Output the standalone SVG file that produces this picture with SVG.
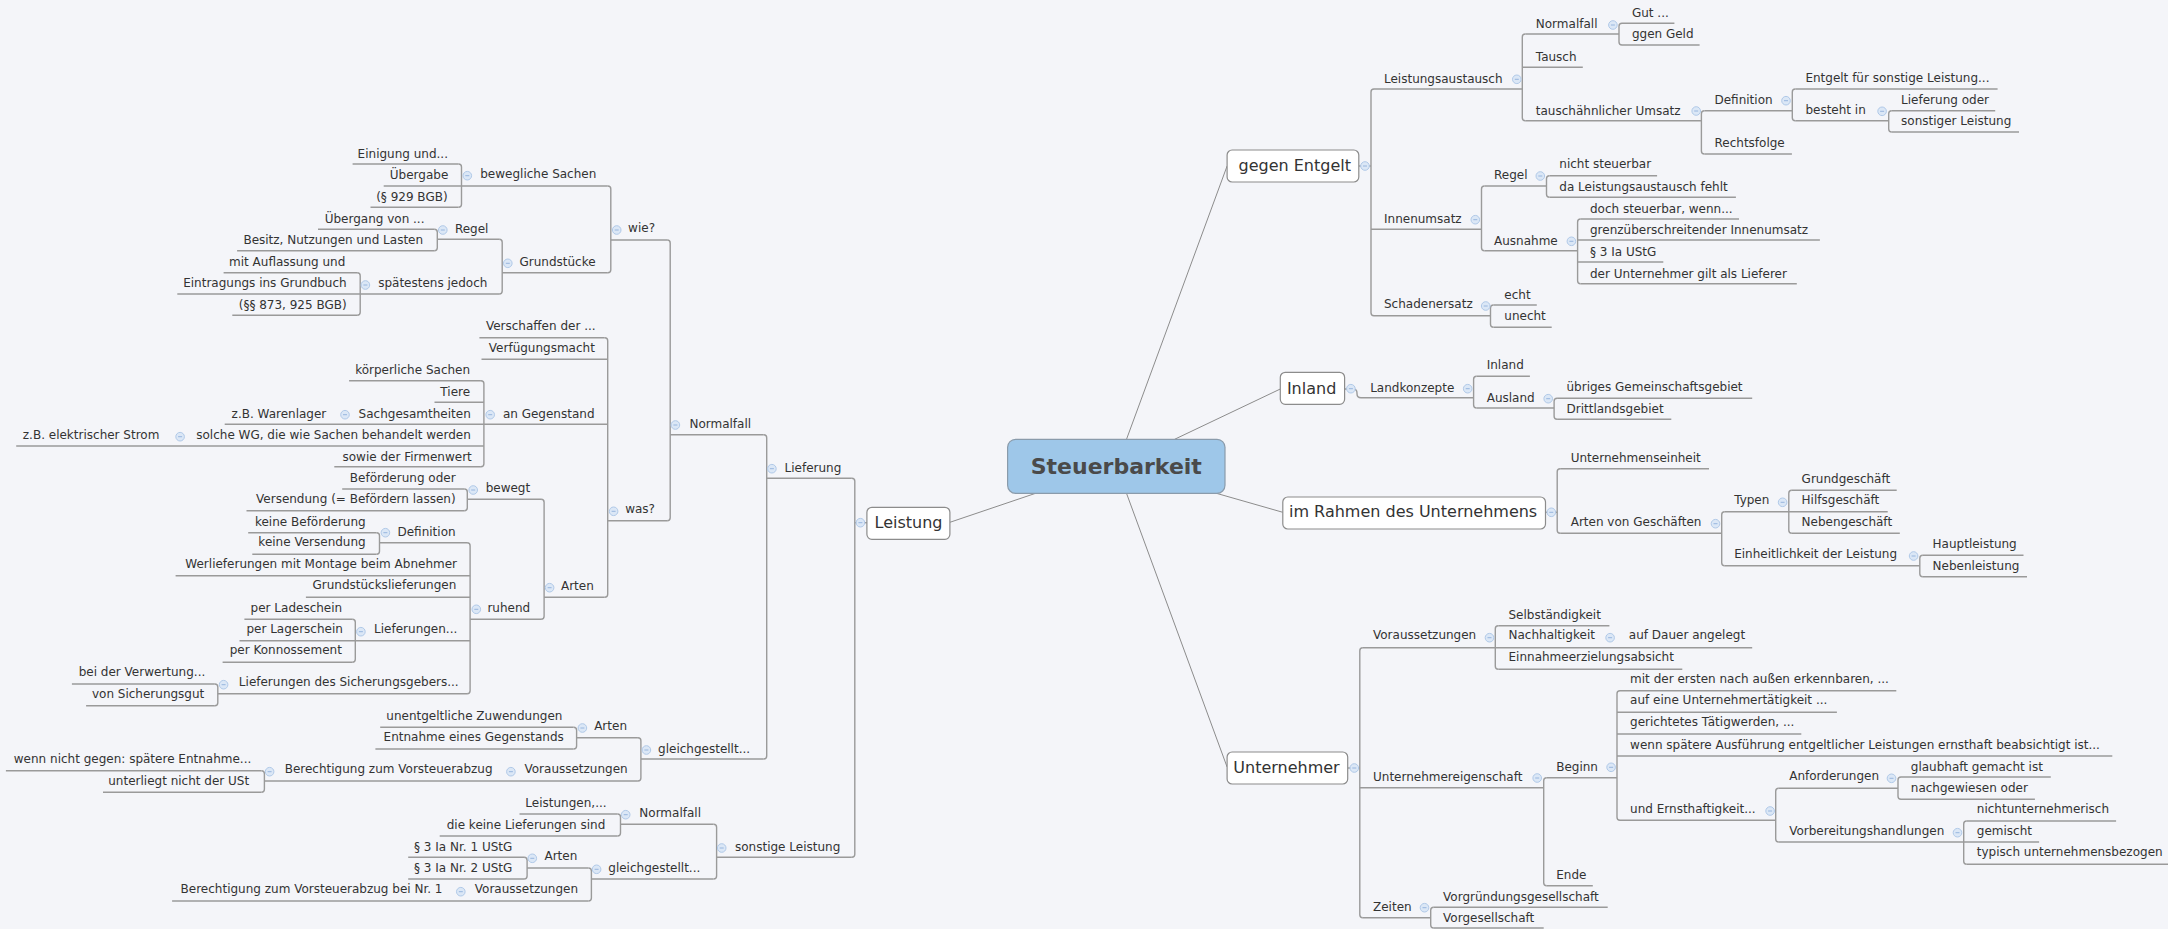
<svg xmlns="http://www.w3.org/2000/svg" width="2168" height="929" viewBox="0 0 2168 929">
<style>
.t{font-family:"DejaVu Sans","Liberation Sans",sans-serif;font-size:12px;fill:#333}
.e{text-anchor:end}
.l{font-size:16px}
.ul,.br{stroke:#9a9a9a;stroke-width:1.4;fill:none}
.mc{stroke:#8c8c8c;stroke-width:1;fill:none}
.box{fill:#fff;stroke:#8c8c8c;stroke-width:1.2}
</style>
<defs><g id="ic"><circle r="4.3" fill="#dbe7f6" stroke="#b0c9e8" stroke-width="1"/><path d="M-2,0H2" stroke="#98b6de" stroke-width="1"/></g></defs>
<rect width="2168" height="929" fill="#f4f5f9"/>
<g id="connectors">
<path class="mc" d="M1126.5,439.3 L1227.1,166"/>
<path class="mc" d="M1174.6,439.3 L1280.3,389"/>
<path class="mc" d="M1216.4,493.3 L1282.8,512.3"/>
<path class="mc" d="M1126.5,493.3 L1227.1,767"/>
<path class="mc" d="M1035.6,493.3 L949.9,522.3"/>
<path class="br" d="M1358.8,166 H1371"/>
<path class="br" d="M1344.6,389 H1353 Q1357,389 1357,393 V393.7 Q1357,397.7 1361,397.7"/>
<path class="br" d="M1545.5,512.3 H1557.2"/>
<path class="br" d="M1347.7,768 H1359.8"/>
<path class="br" d="M866.9,522.7 H854.8"/>
<path class="br" d="M1374,89 Q1371,89 1371,92 V312.7 Q1371,315.7 1374,315.7"/>
<path class="br" d="M1525.3,34 Q1522.3,34 1522.3,37 V117.7 Q1522.3,120.7 1525.3,120.7"/>
<path class="br" d="M1622,23.3 Q1619,23.3 1619,26.3 V42 Q1619,45 1622,45"/>
<path class="br" d="M1704.4,110.7 Q1701.4,110.7 1701.4,113.7 V151 Q1701.4,154 1704.4,154"/>
<path class="br" d="M1795.3,89 Q1792.3,89 1792.3,92 V117.7 Q1792.3,120.7 1795.3,120.7"/>
<path class="br" d="M1891.7,110.7 Q1888.7,110.7 1888.7,113.7 V129 Q1888.7,132 1891.7,132"/>
<path class="br" d="M1484.5,186 Q1481.5,186 1481.5,189 V247.7 Q1481.5,250.7 1484.5,250.7"/>
<path class="br" d="M1549.5,175.7 Q1546.5,175.7 1546.5,178.7 V194.3 Q1546.5,197.3 1549.5,197.3"/>
<path class="br" d="M1580.6,219 Q1577.6,219 1577.6,222 V280.7 Q1577.6,283.7 1580.6,283.7"/>
<path class="br" d="M1493.5,305 Q1490.5,305 1490.5,308 V324.3 Q1490.5,327.3 1493.5,327.3"/>
<path class="br" d="M1476.6,376.3 Q1473.6,376.3 1473.6,379.3 V405 Q1473.6,408 1476.6,408"/>
<path class="br" d="M1557.1,398.3 Q1554.1,398.3 1554.1,401.3 V416.3 Q1554.1,419.3 1557.1,419.3"/>
<path class="br" d="M1560.2,468.7 Q1557.2,468.7 1557.2,471.7 V530.3 Q1557.2,533.3 1560.2,533.3"/>
<path class="br" d="M1724.7,511.7 Q1721.7,511.7 1721.7,514.7 V562.7 Q1721.7,565.7 1724.7,565.7"/>
<path class="br" d="M1791.8,490.3 Q1788.8,490.3 1788.8,493.3 V530.3 Q1788.8,533.3 1791.8,533.3"/>
<path class="br" d="M1922.8,555.3 Q1919.8,555.3 1919.8,558.3 V573.7 Q1919.8,576.7 1922.8,576.7"/>
<path class="br" d="M1362.8,647.7 Q1359.8,647.7 1359.8,650.7 V914.7 Q1359.8,917.7 1362.8,917.7"/>
<path class="br" d="M1498.3,625.7 Q1495.3,625.7 1495.3,628.7 V666.3 Q1495.3,669.3 1498.3,669.3"/>
<path class="br" d="M1546.7,777.7 Q1543.7,777.7 1543.7,780.7 V882.7 Q1543.7,885.7 1546.7,885.7"/>
<path class="br" d="M1620,690.7 Q1617,690.7 1617,693.7 V817.3 Q1617,820.3 1620,820.3"/>
<path class="br" d="M1778.7,788.3 Q1775.7,788.3 1775.7,791.3 V839 Q1775.7,842 1778.7,842"/>
<path class="br" d="M1901,777 Q1898,777 1898,780 V796.3 Q1898,799.3 1901,799.3"/>
<path class="br" d="M1966.7,821 Q1963.7,821 1963.7,824 V861.3 Q1963.7,864.3 1966.7,864.3"/>
<path class="br" d="M1433.7,907.3 Q1430.7,907.3 1430.7,910.3 V925 Q1430.7,928 1433.7,928"/>
<path class="br" d="M851.8,478.3 Q854.8,478.3 854.8,481.3 V854.3 Q854.8,857.3 851.8,857.3"/>
<path class="br" d="M763.7,434.7 Q766.7,434.7 766.7,437.7 V756 Q766.7,759 763.7,759"/>
<path class="br" d="M667.2,240 Q670.2,240 670.2,243 V517.7 Q670.2,520.7 667.2,520.7"/>
<path class="br" d="M607.8,186 Q610.8,186 610.8,189 V269.7 Q610.8,272.7 607.8,272.7"/>
<path class="br" d="M458.5,164 Q461.5,164 461.5,167 V204.3 Q461.5,207.3 458.5,207.3"/>
<path class="br" d="M499.2,239.3 Q502.2,239.3 502.2,242.3 V291 Q502.2,294 499.2,294"/>
<path class="br" d="M434.3,229.3 Q437.3,229.3 437.3,232.3 V247.7 Q437.3,250.7 434.3,250.7"/>
<path class="br" d="M357.2,272.7 Q360.2,272.7 360.2,275.7 V312.3 Q360.2,315.3 357.2,315.3"/>
<path class="br" d="M604.7,337.7 Q607.7,337.7 607.7,340.7 V594.3 Q607.7,597.3 604.7,597.3"/>
<path class="br" d="M480.9,380.7 Q483.9,380.7 483.9,383.7 V463.7 Q483.9,466.7 480.9,466.7"/>
<path class="br" d="M541.1,499.3 Q544.1,499.3 544.1,502.3 V616.3 Q544.1,619.3 541.1,619.3"/>
<path class="br" d="M464.3,489 Q467.3,489 467.3,492 V507.7 Q467.3,510.7 464.3,510.7"/>
<path class="br" d="M467.1,542.7 Q470.1,542.7 470.1,545.7 V690.7 Q470.1,693.7 467.1,693.7"/>
<path class="br" d="M376.5,532.7 Q379.5,532.7 379.5,535.7 V551.3 Q379.5,554.3 376.5,554.3"/>
<path class="br" d="M352.3,619.3 Q355.3,619.3 355.3,622.3 V659.3 Q355.3,662.3 352.3,662.3"/>
<path class="br" d="M214.8,684 Q217.8,684 217.8,687 V702.7 Q217.8,705.7 214.8,705.7"/>
<path class="br" d="M637.9,737.7 Q640.9,737.7 640.9,740.7 V778 Q640.9,781 637.9,781"/>
<path class="br" d="M573.6,727.3 Q576.6,727.3 576.6,730.3 V746 Q576.6,749 573.6,749"/>
<path class="br" d="M261.4,770.7 Q264.4,770.7 264.4,773.7 V789.3 Q264.4,792.3 261.4,792.3"/>
<path class="br" d="M713.6,824.3 Q716.6,824.3 716.6,827.3 V876 Q716.6,879 713.6,879"/>
<path class="br" d="M617.5,814 Q620.5,814 620.5,817 V833 Q620.5,836 617.5,836"/>
<path class="br" d="M588.4,868 Q591.4,868 591.4,871 V898 Q591.4,901 588.4,901"/>
<path class="br" d="M524.1,857.3 Q527.1,857.3 527.1,860.3 V876 Q527.1,879 524.1,879"/>
</g>
<g id="n-steuerbarkeit"><rect x="1007.6" y="439.3" width="217.4" height="54" rx="8" fill="#9ec7e9" stroke="#8a9bab" stroke-width="1.2"/><text x="1116.3" y="474" text-anchor="middle" style="font-family:'DejaVu Sans',sans-serif;font-size:22px;font-weight:bold;fill:#4a4a4a">Steuerbarkeit</text></g>
<g id="n-gegen-entgelt"><rect class="box" x="1227.1" y="150" width="131.7" height="32" rx="5"/><text class="t l" x="1238.5" y="171">gegen Entgelt</text><use href="#ic" x="1365" y="166"/></g>
<g id="n-leistungsaustausch"><path class="ul" d="M1374,89 H1522.3"/><text class="t" x="1384" y="82.7">Leistungsaustausch</text><use href="#ic" x="1516.8" y="79.3"/></g>
<g id="n-normalfall-r"><path class="ul" d="M1525.3,34 H1619"/><text class="t" x="1535.8" y="28.3">Normalfall</text><use href="#ic" x="1612.9" y="25"/></g>
<g id="n-gut"><path class="ul" d="M1622,23.3 H1674.4"/><text class="t" x="1631.9" y="17.3">Gut ...</text></g>
<g id="n-ggen-geld"><path class="ul" d="M1622,45 H1699.6"/><text class="t" x="1631.9" y="38.3">ggen Geld</text></g>
<g id="n-tausch"><path class="ul" d="M1522.3,67.3 H1582.8"/><text class="t" x="1535.8" y="60.7">Tausch</text></g>
<g id="n-tauschaehnlich"><path class="ul" d="M1525.3,120.7 H1701.4"/><text class="t" x="1535.8" y="115">tauschähnlicher Umsatz</text><use href="#ic" x="1696.2" y="111"/></g>
<g id="n-definition-r"><path class="ul" d="M1704.4,110.7 H1792.3"/><text class="t" x="1714.5" y="104.3">Definition</text><use href="#ic" x="1786" y="100.7"/></g>
<g id="n-entgelt-fuer"><path class="ul" d="M1795.3,89 H1997.6"/><text class="t" x="1805.4" y="82.3">Entgelt für sonstige Leistung...</text></g>
<g id="n-besteht-in"><path class="ul" d="M1795.3,120.7 H1888.7"/><text class="t" x="1805.4" y="114.3">besteht in</text><use href="#ic" x="1882.1" y="111.3"/></g>
<g id="n-lieferung-oder"><path class="ul" d="M1891.7,110.7 H1995.2"/><text class="t" x="1901.1" y="104.3">Lieferung oder</text></g>
<g id="n-sonstiger-leistung"><path class="ul" d="M1891.7,132 H2019"/><text class="t" x="1901.1" y="125.3">sonstiger Leistung</text></g>
<g id="n-rechtsfolge"><path class="ul" d="M1704.4,154 H1791.9"/><text class="t" x="1714.5" y="146.7">Rechtsfolge</text></g>
<g id="n-innenumsatz"><path class="ul" d="M1371,229.3 H1481.5"/><text class="t" x="1384" y="223.3">Innenumsatz</text><use href="#ic" x="1475.3" y="219.7"/></g>
<g id="n-regel-r"><path class="ul" d="M1484.5,186 H1546.5"/><text class="t" x="1494" y="179">Regel</text><use href="#ic" x="1540.3" y="176"/></g>
<g id="n-nicht-steuerbar"><path class="ul" d="M1549.5,175.7 H1657.1"/><text class="t" x="1559.3" y="168.3">nicht steuerbar</text></g>
<g id="n-da-leistungsaustausch"><path class="ul" d="M1549.5,197.3 H1735.9"/><text class="t" x="1559.3" y="190.7">da Leistungsaustausch fehlt</text></g>
<g id="n-ausnahme"><path class="ul" d="M1484.5,250.7 H1577.6"/><text class="t" x="1494" y="244.7">Ausnahme</text><use href="#ic" x="1571.4" y="241.3"/></g>
<g id="n-doch-steuerbar"><path class="ul" d="M1580.6,219 H1739"/><text class="t" x="1590" y="212.7">doch steuerbar, wenn...</text></g>
<g id="n-grenzueber"><path class="ul" d="M1577.6,240 H1819.9"/><text class="t" x="1590" y="234">grenzüberschreitender Innenumsatz</text></g>
<g id="n-p3-ia"><path class="ul" d="M1577.6,262 H1663.3"/><text class="t" x="1590" y="255.7">§ 3 Ia UStG</text></g>
<g id="n-der-unternehmer"><path class="ul" d="M1580.6,283.7 H1796.8"/><text class="t" x="1590" y="277.7">der Unternehmer gilt als Lieferer</text></g>
<g id="n-schadenersatz"><path class="ul" d="M1374,315.7 H1490.5"/><text class="t" x="1384" y="308.3">Schadenersatz</text><use href="#ic" x="1485.7" y="306"/></g>
<g id="n-echt"><path class="ul" d="M1493.5,305 H1536.8"/><text class="t" x="1504.3" y="299">echt</text></g>
<g id="n-unecht"><path class="ul" d="M1493.5,327.3 H1551.7"/><text class="t" x="1504.3" y="320">unecht</text></g>
<g id="n-inland"><rect class="box" x="1280.3" y="372.3" width="64.3" height="32" rx="5"/><text class="t l" x="1286.9" y="394">Inland</text><use href="#ic" x="1350.9" y="388.7"/></g>
<g id="n-landkonzepte"><path class="ul" d="M1361,397.7 H1473.6"/><text class="t" x="1370.2" y="391.7">Landkonzepte</text><use href="#ic" x="1467.7" y="388.7"/></g>
<g id="n-inland2"><path class="ul" d="M1476.6,376.3 H1529.9"/><text class="t" x="1486.7" y="369.3">Inland</text></g>
<g id="n-ausland"><path class="ul" d="M1476.6,408 H1554.1"/><text class="t" x="1486.7" y="401.7">Ausland</text><use href="#ic" x="1548.2" y="398.7"/></g>
<g id="n-uebriges"><path class="ul" d="M1557.1,398.3 H1752.2"/><text class="t" x="1566.5" y="391.3">übriges Gemeinschaftsgebiet</text></g>
<g id="n-drittland"><path class="ul" d="M1557.1,419.3 H1671.3"/><text class="t" x="1566.5" y="413.3">Drittlandsgebiet</text></g>
<g id="n-im-rahmen"><rect class="box" x="1282.8" y="497" width="262.7" height="32" rx="5"/><text class="t l" x="1289" y="517.3">im Rahmen des Unternehmens</text><use href="#ic" x="1551.3" y="512.3"/></g>
<g id="n-unternehmenseinheit"><path class="ul" d="M1560.2,468.7 H1709"/><text class="t" x="1570.7" y="461.7">Unternehmenseinheit</text></g>
<g id="n-arten-von-geschaeften"><path class="ul" d="M1560.2,533.3 H1721.7"/><text class="t" x="1570.7" y="526">Arten von Geschäften</text><use href="#ic" x="1715.5" y="523.7"/></g>
<g id="n-typen"><path class="ul" d="M1724.7,511.7 H1788.8"/><text class="t" x="1734.2" y="504">Typen</text><use href="#ic" x="1782.6" y="502.3"/></g>
<g id="n-grundgeschaeft"><path class="ul" d="M1791.8,490.3 H1896.7"/><text class="t" x="1801.6" y="483">Grundgeschäft</text></g>
<g id="n-hilfsgeschaeft"><path class="ul" d="M1788.8,511.7 H1887.7"/><text class="t" x="1801.6" y="504">Hilfsgeschäft</text></g>
<g id="n-nebengeschaeft"><path class="ul" d="M1791.8,533.3 H1899.8"/><text class="t" x="1801.6" y="525.7">Nebengeschäft</text></g>
<g id="n-einheitlichkeit"><path class="ul" d="M1724.7,565.7 H1919.8"/><text class="t" x="1734.2" y="558">Einheitlichkeit der Leistung</text><use href="#ic" x="1913.6" y="556"/></g>
<g id="n-hauptleistung"><path class="ul" d="M1922.8,555.3 H2023.5"/><text class="t" x="1932.6" y="548">Hauptleistung</text></g>
<g id="n-nebenleistung"><path class="ul" d="M1922.8,576.7 H2027"/><text class="t" x="1932.6" y="570">Nebenleistung</text></g>
<g id="n-unternehmer"><rect class="box" x="1227.1" y="752" width="120.6" height="32" rx="5"/><text class="t l" x="1233.3" y="773">Unternehmer</text><use href="#ic" x="1354.3" y="768"/></g>
<g id="n-voraussetzungen-u"><path class="ul" d="M1362.8,647.7 H1495.3"/><text class="t" x="1373" y="639.3">Voraussetzungen</text><use href="#ic" x="1489.5" y="637.7"/></g>
<g id="n-selbstaendigkeit"><path class="ul" d="M1498.3,625.7 H1609.4"/><text class="t" x="1508.5" y="618.5">Selbständigkeit</text></g>
<g id="n-nachhaltigkeit"><path class="ul" d="M1495.3,647.7 H1620"/><text class="t" x="1508.5" y="639.3">Nachhaltigkeit</text><use href="#ic" x="1610.1" y="637.7"/></g>
<g id="n-auf-dauer"><path class="ul" d="M1620,647.7 H1752.2"/><text class="t" x="1628.8" y="639.3">auf Dauer angelegt</text></g>
<g id="n-einnahme"><path class="ul" d="M1498.3,669.3 H1682.3"/><text class="t" x="1508.5" y="661.3">Einnahmeerzielungsabsicht</text></g>
<g id="n-unternehmereigenschaft"><path class="ul" d="M1359.8,787.7 H1543.7"/><text class="t" x="1373" y="780.7">Unternehmereigenschaft</text><use href="#ic" x="1537.2" y="778"/></g>
<g id="n-beginn"><path class="ul" d="M1546.7,777.7 H1617"/><text class="t" x="1556.2" y="771">Beginn</text><use href="#ic" x="1611.1" y="767.3"/></g>
<g id="n-mit-der-ersten"><path class="ul" d="M1620,690.7 H1896.3"/><text class="t" x="1630.1" y="683.3">mit der ersten nach außen erkennbaren, ...</text></g>
<g id="n-auf-eine"><path class="ul" d="M1617,712.3 H1836.9"/><text class="t" x="1630.1" y="704.3">auf eine Unternehmertätigkeit ...</text></g>
<g id="n-gerichtetes"><path class="ul" d="M1617,734 H1801.3"/><text class="t" x="1630.1" y="726.3">gerichtetes Tätigwerden, ...</text></g>
<g id="n-wenn-spaetere"><path class="ul" d="M1617,756 H2112.3"/><text class="t" x="1630.1" y="748.7">wenn spätere Ausführung entgeltlicher Leistungen ernsthaft beabsichtigt ist...</text></g>
<g id="n-ernsthaftigkeit"><path class="ul" d="M1620,820.3 H1775.7"/><text class="t" x="1630.1" y="813.3">und Ernsthaftigkeit...</text><use href="#ic" x="1770.1" y="811"/></g>
<g id="n-anforderungen"><path class="ul" d="M1778.7,788.3 H1898"/><text class="t" x="1789.2" y="780.3">Anforderungen</text><use href="#ic" x="1891.5" y="778.3"/></g>
<g id="n-glaubhaft"><path class="ul" d="M1901,777 H2050.8"/><text class="t" x="1910.8" y="770.7">glaubhaft gemacht ist</text></g>
<g id="n-nachgewiesen"><path class="ul" d="M1901,799.3 H2034.9"/><text class="t" x="1910.8" y="791.7">nachgewiesen oder</text></g>
<g id="n-vorbereitung"><path class="ul" d="M1778.7,842 H1963.7"/><text class="t" x="1789.2" y="834.7">Vorbereitungshandlungen</text><use href="#ic" x="1957.5" y="832.7"/></g>
<g id="n-nichtunternehmerisch"><path class="ul" d="M1966.7,821 H2116.1"/><text class="t" x="1976.8" y="813.3">nichtunternehmerisch</text></g>
<g id="n-gemischt"><path class="ul" d="M1963.7,842 H2039.1"/><text class="t" x="1976.8" y="834.7">gemischt</text></g>
<g id="n-typisch"><path class="ul" d="M1966.7,864.3 H2168"/><text class="t" x="1976.8" y="856">typisch unternehmensbezogen</text></g>
<g id="n-ende"><path class="ul" d="M1546.7,885.7 H1592.8"/><text class="t" x="1556.2" y="878.7">Ende</text></g>
<g id="n-zeiten"><path class="ul" d="M1362.8,917.7 H1430.7"/><text class="t" x="1373" y="910.7">Zeiten</text><use href="#ic" x="1424.5" y="907.7"/></g>
<g id="n-vorgruendung"><path class="ul" d="M1433.7,907.3 H1607.7"/><text class="t" x="1443.1" y="900.7">Vorgründungsgesellschaft</text></g>
<g id="n-vorgesellschaft"><path class="ul" d="M1433.7,928 H1543.7"/><text class="t" x="1443.1" y="921.7">Vorgesellschaft</text></g>
<g id="n-leistung"><rect class="box" x="866.9" y="507.3" width="83" height="32" rx="5"/><text class="t l" x="874.5" y="528">Leistung</text><use href="#ic" x="860.4" y="522.7"/></g>
<g id="n-lieferung"><path class="ul" d="M766.7,478.3 H851.8"/><text class="t e" x="841.3" y="471.7">Lieferung</text><use href="#ic" x="771.9" y="468.7"/></g>
<g id="n-normalfall-l"><path class="ul" d="M670.2,434.7 H763.7"/><text class="t e" x="751.1" y="428.3">Normalfall</text><use href="#ic" x="675.4" y="425"/></g>
<g id="n-wie"><path class="ul" d="M610.8,240 H667.2"/><text class="t e" x="655" y="232.3">wie?</text><use href="#ic" x="616.7" y="230"/></g>
<g id="n-bewegliche"><path class="ul" d="M461.5,186 H607.8"/><text class="t e" x="596.3" y="178.3">bewegliche Sachen</text><use href="#ic" x="467.3" y="175.7"/></g>
<g id="n-einigung"><path class="ul" d="M352.6,164 H458.5"/><text class="t e" x="448" y="158.3">Einigung und...</text></g>
<g id="n-uebergabe"><path class="ul" d="M383.7,186 H461.5"/><text class="t e" x="448.3" y="179">Übergabe</text></g>
<g id="n-p929"><path class="ul" d="M370.5,207.3 H458.5"/><text class="t e" x="447.6" y="200.7">(§ 929 BGB)</text></g>
<g id="n-grundstuecke"><path class="ul" d="M502.2,272.7 H607.8"/><text class="t e" x="595.6" y="265.7">Grundstücke</text><use href="#ic" x="507.8" y="263.3"/></g>
<g id="n-regel-l"><path class="ul" d="M437.3,239.3 H499.2"/><text class="t e" x="488.4" y="232.7">Regel</text><use href="#ic" x="442.8" y="230"/></g>
<g id="n-uebergang"><path class="ul" d="M318,229.3 H434.3"/><text class="t e" x="424.5" y="222.7">Übergang von ...</text></g>
<g id="n-besitz"><path class="ul" d="M237.1,250.7 H434.3"/><text class="t e" x="423.1" y="244.3">Besitz, Nutzungen und Lasten</text></g>
<g id="n-spaetestens"><path class="ul" d="M360.2,294 H499.2"/><text class="t e" x="487.4" y="287.3">spätestens jedoch</text><use href="#ic" x="365.4" y="285"/></g>
<g id="n-auflassung"><path class="ul" d="M223.6,272.7 H357.2"/><text class="t e" x="345.3" y="265.7">mit Auflassung und</text></g>
<g id="n-eintragungs"><path class="ul" d="M177.3,294 H360.2"/><text class="t e" x="346.7" y="287.3">Eintragungs ins Grundbuch</text></g>
<g id="n-p873"><path class="ul" d="M232.3,315.3 H357.2"/><text class="t e" x="346.7" y="308.7">(§§ 873, 925 BGB)</text></g>
<g id="n-was"><path class="ul" d="M607.7,520.7 H667.2"/><text class="t e" x="655" y="513.3">was?</text><use href="#ic" x="613.6" y="511.3"/></g>
<g id="n-verschaffen"><path class="ul" d="M479.4,337.7 H604.7"/><text class="t e" x="595.6" y="330">Verschaffen der ...</text></g>
<g id="n-verfuegungsmacht"><path class="ul" d="M481.5,359.3 H607.7"/><text class="t e" x="594.9" y="352.3">Verfügungsmacht</text></g>
<g id="n-an-gegenstand"><path class="ul" d="M483.9,424.3 H607.7"/><text class="t e" x="594.5" y="417.7">an Gegenstand</text><use href="#ic" x="490.2" y="414.7"/></g>
<g id="n-koerperliche"><path class="ul" d="M349.1,380.7 H480.9"/><text class="t e" x="470.1" y="374.3">körperliche Sachen</text></g>
<g id="n-tiere"><path class="ul" d="M434.5,402.3 H483.9"/><text class="t e" x="470.1" y="396">Tiere</text></g>
<g id="n-sachgesamtheiten"><path class="ul" d="M340,424.3 H483.9"/><text class="t e" x="470.8" y="417.7">Sachgesamtheiten</text><use href="#ic" x="345" y="414.7"/></g>
<g id="n-warenlager"><path class="ul" d="M224.7,424.3 H340"/><text class="t e" x="326.3" y="417.7">z.B. Warenlager</text></g>
<g id="n-solche-wg"><path class="ul" d="M175,446 H483.9"/><text class="t e" x="470.8" y="439.3">solche WG, die wie Sachen behandelt werden</text><use href="#ic" x="180.1" y="436.7"/></g>
<g id="n-strom"><path class="ul" d="M16.2,446 H175"/><text class="t e" x="159.4" y="439.3">z.B. elektrischer Strom</text></g>
<g id="n-firmenwert"><path class="ul" d="M334.3,466.7 H480.9"/><text class="t e" x="471.8" y="461.3">sowie der Firmenwert</text></g>
<g id="n-arten-l"><path class="ul" d="M544.1,597.3 H604.7"/><text class="t e" x="593.8" y="590">Arten</text><use href="#ic" x="549.6" y="587.7"/></g>
<g id="n-bewegt"><path class="ul" d="M467.3,499.3 H541.1"/><text class="t e" x="530.2" y="491.7">bewegt</text><use href="#ic" x="473.2" y="490"/></g>
<g id="n-befoerderung-oder"><path class="ul" d="M342.2,489 H464.3"/><text class="t e" x="455.6" y="481.7">Beförderung oder</text></g>
<g id="n-versendung"><path class="ul" d="M246.5,510.7 H464.3"/><text class="t e" x="455.6" y="503.3">Versendung (= Befördern lassen)</text></g>
<g id="n-ruhend"><path class="ul" d="M470.1,619.3 H541.1"/><text class="t e" x="530.2" y="611.7">ruhend</text><use href="#ic" x="476.3" y="609.3"/></g>
<g id="n-definition-l"><path class="ul" d="M379.5,542.7 H467.1"/><text class="t e" x="455.6" y="535.7">Definition</text><use href="#ic" x="385.4" y="532.7"/></g>
<g id="n-keine-befoerderung"><path class="ul" d="M248.2,532.7 H376.5"/><text class="t e" x="365.7" y="525.7">keine Beförderung</text></g>
<g id="n-keine-versendung"><path class="ul" d="M252.3,554.3 H376.5"/><text class="t e" x="365.7" y="546.3">keine Versendung</text></g>
<g id="n-werlieferungen"><path class="ul" d="M175.6,575.7 H470.1"/><text class="t e" x="457" y="568.3">Werlieferungen mit Montage beim Abnehmer</text></g>
<g id="n-grundstueckslieferungen"><path class="ul" d="M305.9,597.3 H470.1"/><text class="t e" x="456.3" y="589.3">Grundstückslieferungen</text></g>
<g id="n-lieferungen-dots"><path class="ul" d="M355.3,640.7 H470.1"/><text class="t e" x="457.3" y="633.3">Lieferungen...</text><use href="#ic" x="360.9" y="631.7"/></g>
<g id="n-ladeschein"><path class="ul" d="M244.4,619.3 H352.3"/><text class="t e" x="342.2" y="611.7">per Ladeschein</text></g>
<g id="n-lagerschein"><path class="ul" d="M239.5,640.7 H355.3"/><text class="t e" x="342.9" y="633.3">per Lagerschein</text></g>
<g id="n-konnossement"><path class="ul" d="M222.6,662.3 H352.3"/><text class="t e" x="341.9" y="654.3">per Konnossement</text></g>
<g id="n-sicherungsgeber"><path class="ul" d="M217.8,693.7 H467.1"/><text class="t e" x="458.7" y="686">Lieferungen des Sicherungsgebers...</text><use href="#ic" x="223.6" y="684.7"/></g>
<g id="n-verwertung"><path class="ul" d="M71.9,684 H214.8"/><text class="t e" x="205.3" y="676">bei der Verwertung...</text></g>
<g id="n-sicherungsgut"><path class="ul" d="M86.1,705.7 H214.8"/><text class="t e" x="204.3" y="698.3">von Sicherungsgut</text></g>
<g id="n-gleichgestellt-lief"><path class="ul" d="M640.9,759 H763.7"/><text class="t e" x="750.1" y="752.7">gleichgestellt...</text><use href="#ic" x="646.4" y="750"/></g>
<g id="n-arten-gl"><path class="ul" d="M576.6,737.7 H637.9"/><text class="t e" x="627" y="730">Arten</text><use href="#ic" x="582.4" y="728"/></g>
<g id="n-unentgeltliche"><path class="ul" d="M380.2,727.3 H573.6"/><text class="t e" x="562.4" y="720">unentgeltliche Zuwendungen</text></g>
<g id="n-entnahme"><path class="ul" d="M375.4,749 H573.6"/><text class="t e" x="563.8" y="741.3">Entnahme eines Gegenstands</text></g>
<g id="n-voraussetzungen-gl"><path class="ul" d="M505,781 H637.9"/><text class="t e" x="627.7" y="773.3">Voraussetzungen</text><use href="#ic" x="510.9" y="771.7"/></g>
<g id="n-berechtigung"><path class="ul" d="M264.4,781 H505"/><text class="t e" x="492.6" y="773.3">Berechtigung zum Vorsteuerabzug</text><use href="#ic" x="269.6" y="771.7"/></g>
<g id="n-wenn-nicht"><path class="ul" d="M5.9,770.7 H261.4"/><text class="t e" x="251.3" y="763.3">wenn nicht gegen: spätere Entnahme...</text></g>
<g id="n-unterliegt"><path class="ul" d="M103,792.3 H261.4"/><text class="t e" x="249.2" y="785">unterliegt nicht der USt</text></g>
<g id="n-sonstige-leistung"><path class="ul" d="M716.6,857.3 H851.8"/><text class="t e" x="840.3" y="850.7">sonstige Leistung</text><use href="#ic" x="721.7" y="848"/></g>
<g id="n-normalfall-sl"><path class="ul" d="M620.5,824.3 H713.6"/><text class="t e" x="701" y="816.7">Normalfall</text><use href="#ic" x="625.7" y="814.7"/></g>
<g id="n-leistungen-dots"><path class="ul" d="M519.5,814 H617.5"/><text class="t e" x="606.6" y="806.7">Leistungen,...</text></g>
<g id="n-keine-lieferungen"><path class="ul" d="M439.7,836 H617.5"/><text class="t e" x="605.3" y="828.7">die keine Lieferungen sind</text></g>
<g id="n-gleichgestellt-sl"><path class="ul" d="M591.4,879 H713.6"/><text class="t e" x="700.3" y="871.7">gleichgestellt...</text><use href="#ic" x="596.6" y="869.3"/></g>
<g id="n-arten-sl"><path class="ul" d="M527.1,868 H588.4"/><text class="t e" x="577.3" y="860">Arten</text><use href="#ic" x="532.3" y="858.3"/></g>
<g id="n-p3-nr1"><path class="ul" d="M408.2,857.3 H524.1"/><text class="t e" x="512.3" y="850.7">§ 3 Ia Nr. 1 UStG</text></g>
<g id="n-p3-nr2"><path class="ul" d="M408.2,879 H524.1"/><text class="t e" x="512.3" y="871.7">§ 3 Ia Nr. 2 UStG</text></g>
<g id="n-voraussetzungen-sl"><path class="ul" d="M455,901 H588.4"/><text class="t e" x="578" y="892.7">Voraussetzungen</text><use href="#ic" x="460.8" y="891.7"/></g>
<g id="n-berechtigung-nr1"><path class="ul" d="M172.1,901 H455"/><text class="t e" x="442.5" y="892.7">Berechtigung zum Vorsteuerabzug bei Nr. 1</text></g>
</svg>
